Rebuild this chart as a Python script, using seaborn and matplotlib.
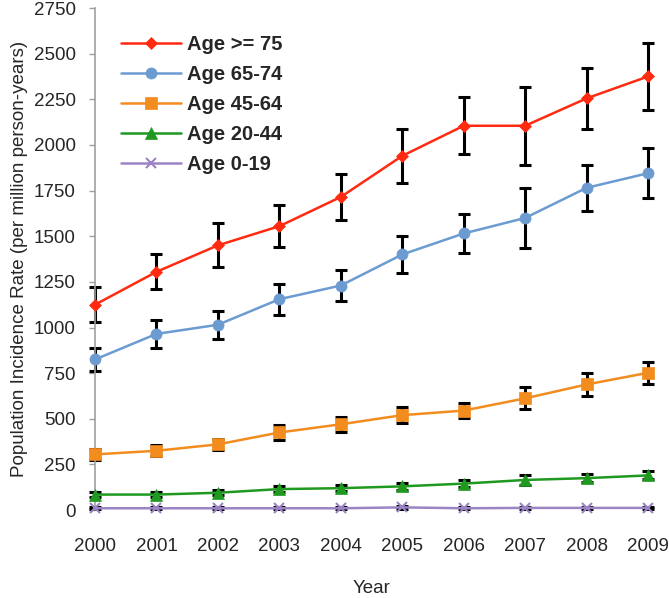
import matplotlib
matplotlib.use("Agg")
import matplotlib.pyplot as plt
import seaborn as sns
import numpy as np
import pandas as pd

years = [2000, 2001, 2002, 2003, 2004, 2005, 2006, 2007, 2008, 2009]
labels = ["Age >= 75", "Age 65-74", "Age 45-64", "Age 20-44", "Age 0-19"]

age75 = [1125, 1305, 1450, 1555, 1715, 1940, 2105, 2105, 2255, 2375]
age75_err = [95, 95, 120, 115, 128, 150, 155, 215, 165, 185]
age65 = [825, 965, 1015, 1155, 1230, 1400, 1515, 1600, 1765, 1845]
age65_err = [62, 75, 78, 85, 85, 100, 107, 163, 127, 137]
age45 = [305, 325, 360, 425, 470, 520, 545, 612, 688, 752]
age45_err = [30, 30, 30, 40, 40, 45, 40, 60, 62, 60]
age20 = [85, 85, 95, 115, 120, 130, 145, 165, 175, 190]
age20_err = [15, 15, 15, 18, 18, 20, 20, 25, 22, 22]
age0 = [10, 10, 10, 10, 10, 15, 10, 12, 12, 12]
age0_err = [6, 6, 6, 6, 6, 8, 6, 7, 7, 7]

series = [age75, age65, age45, age20, age0]
errors = [age75_err, age65_err, age45_err, age20_err, age0_err]
colors = ["#ff2a10", "#6b9bd1", "#f28c1e", "#1f991f", "#9b84c4"]
markers = ["D", "o", "s", "^", "x"]
msizes = [6.5, 8, 8, 8, 7]

sns.set_style("white")
plt.rcParams["font.family"] = ["Liberation Sans", "DejaVu Sans"]

fig = plt.figure(figsize=(6.69, 5.98), dpi=100)
ax = fig.add_axes([0.142, 0.147, 0.8266, 0.8396])

for vals, errs, c, m, ms, lab in zip(series, errors, colors, markers, msizes, labels):
    ax.errorbar(years, vals, yerr=errs, fmt="none", ecolor="black",
                elinewidth=2.2, capsize=4.5, capthick=2.2, zorder=1, clip_on=False)
    sns.lineplot(x=years, y=vals, ax=ax, color=c, marker=m, markersize=ms,
                 markeredgecolor=c, markeredgewidth=1.5 if m == "x" else 0.5,
                 linewidth=1.8, label=lab, zorder=3, clip_on=False)

ax.set_xlim(2000, 2009)
ax.set_ylim(0, 2750)
ax.set_yticks(np.arange(0, 2751, 250))
ax.set_xticks(years)
ax.set_xticklabels([str(y) for y in years])

for s in ["top", "right", "bottom"]:
    ax.spines[s].set_visible(False)
ax.spines["left"].set_color("#a0a0a0")
ax.spines["left"].set_linewidth(1.2)

ax.tick_params(axis="y", direction="out", length=4, width=1, color="#a0a0a0",
               labelsize=13.5, pad=10, left=True)
ax.tick_params(axis="x", length=0, labelsize=13.5, pad=20)

ax.set_xlabel("Year", fontsize=13.5, labelpad=18)
ax.set_ylabel("Population Incidence Rate (per million person-years)", fontsize=13.5, labelpad=4)

leg = ax.legend(loc="upper left", bbox_to_anchor=(121 / 669, 1 - 35 / 598),
                bbox_transform=fig.transFigure, frameon=False, borderpad=0,
                borderaxespad=0, handlelength=3.0, handletextpad=0.3,
                labelspacing=0.55, prop={"weight": "bold", "size": 14.5})

fig.savefig("out.png", dpi=100)
